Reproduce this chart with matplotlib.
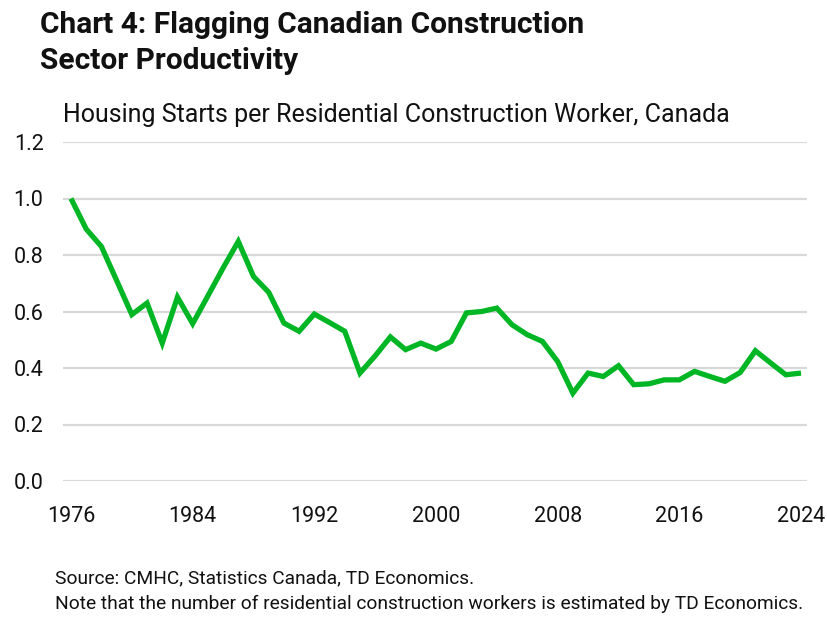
import matplotlib
matplotlib.use("Agg")
import matplotlib.pyplot as plt

years = list(range(1976, 2025))
values = [1.00, 0.892, 0.830, 0.71, 0.589, 0.630, 0.488, 0.651, 0.557, 0.655,
          0.754, 0.848, 0.724, 0.668, 0.559, 0.530, 0.591, 0.561, 0.530, 0.382,
          0.443, 0.510, 0.465, 0.488, 0.467, 0.494, 0.595, 0.600, 0.612, 0.553,
          0.518, 0.494, 0.423, 0.311, 0.382, 0.370, 0.408, 0.341, 0.344, 0.358,
          0.358, 0.388, 0.370, 0.353, 0.384, 0.461, 0.418, 0.376, 0.382]
yticks = [0.0, 0.2, 0.4, 0.6, 0.8, 1.0, 1.2]
xticks = [1976, 1984, 1992, 2000, 2008, 2016, 2024]

title = "Chart 4: Flagging Canadian Construction\nSector Productivity"
subtitle = "Housing Starts per Residential Construction Worker, Canada"
source = "Source: CMHC, Statistics Canada, TD Economics."
note = "Note that the number of residential construction workers is estimated by TD Economics."

plt.rcParams['font.family'] = ['Roboto', 'DejaVu Sans']

W, H = 827, 617
fig = plt.figure(figsize=(W / 100, H / 100), dpi=100)
ax = fig.add_axes([63 / W, 1 - 481 / H, (807 - 63) / W, (481 - 142) / H])

ax.plot(years, values, color="#00B624", lw=3.8, solid_joinstyle="miter", solid_capstyle="butt", zorder=3)
ax.set_ylim(0, 1.2)
ax.set_xlim(1976 - 8 / 15.22, 2024 + 6 / 15.22)
ax.set_yticks(yticks)
ax.set_yticklabels([f"{v:.1f}" for v in yticks])
ax.set_xticks(xticks)
ax.set_xticklabels([str(x) for x in xticks])
ax.grid(axis="y", color="#d9d9d9", lw=1.6, zorder=0)
ax.tick_params(axis="both", length=0, labelsize=15.5, colors="#111111")
ax.tick_params(axis="y", pad=14)
ax.tick_params(axis="x", pad=18)
for s in ax.spines.values():
    s.set_visible(False)
for ln in ax.lines:
    ln.set_clip_on(False)

fig.text(40 / W, 1 - 25 / H, title.split("\n")[0], ha="left", va="center", fontsize=21.5,
         fontweight="bold", color="#111111")
fig.text(40 / W, 1 - 61 / H, title.split("\n")[1], ha="left", va="center", fontsize=21.5,
         fontweight="bold", color="#111111")
fig.text(63 / W, 1 - 115 / H, subtitle, ha="left", va="center", fontsize=18, color="#111111")
fig.text(55 / W, 1 - 578 / H, source, ha="left", va="center", fontsize=13.8, color="#111111")
fig.text(55 / W, 1 - 604 / H, note, ha="left", va="center", fontsize=13.8, color="#111111")

fig.savefig("out.png", dpi=100, facecolor="white")
